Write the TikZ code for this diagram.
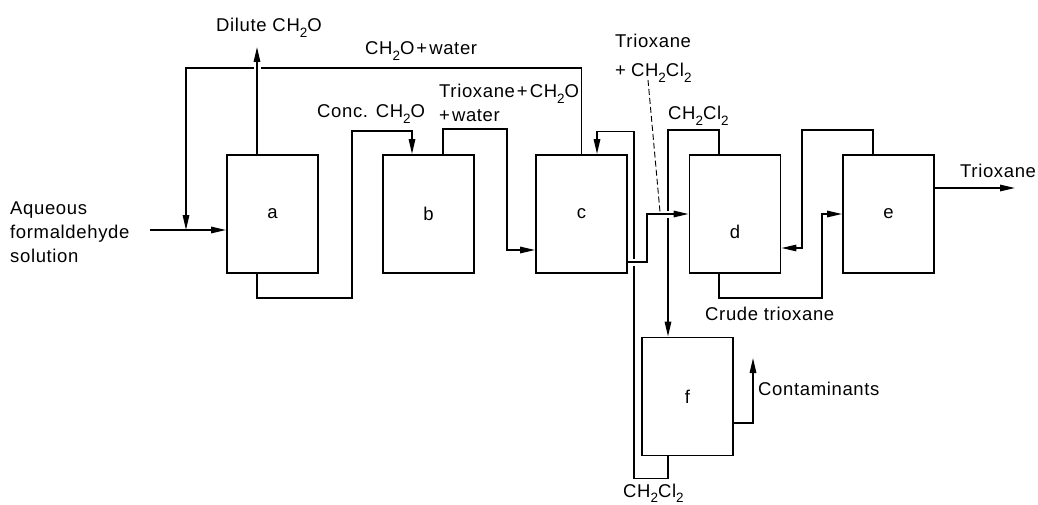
\documentclass[tikz,border=0pt]{standalone}
\usepackage{fontspec}
\setmainfont[LetterSpace=3.5]{Liberation Sans}
\usetikzlibrary{arrows.meta}
\newcommand{\subx}[1]{\raisebox{-0.32em}{\fontsize{13.5}{13.5}\selectfont #1}}
\newcommand{\plusx}{\kern2pt+\kern2pt}
\begin{document}
\begin{tikzpicture}[x=1pt,y=-1pt,
  box/.style={draw,line width=1.9pt,minimum width=91pt,minimum height=118pt,inner sep=0pt,font=\fontsize{18.5}{22}\selectfont},
  flow/.style={line width=1.5pt,-{Triangle[length=15pt,width=6.5pt]}},
  over/.style={preaction={draw=white,line width=7pt,arrows=-,shorten <=3pt,shorten >=3pt}},
  lead/.style={line width=0.9pt,dash pattern=on 6pt off 3pt},
  lbl/.style={inner sep=0pt,font=\fontsize{18.5}{24}\selectfont},
]
\useasboundingbox (0,0) rectangle (1038,505);
% units
\node[box] (a) at (272.5,214) {a};
\node[box] (b) at (428.5,214) {b};
\node[box] (c) at (581.5,214) {c};
\node[box] (d) at (735,214) {};
\node[lbl] (dl) at (735,232) {d};
\node[box] (e) at (888.5,214) {e};
\node[box] (f) at (687.5,396.5) {f};
% free ends
\coordinate (feed) at (150,230);
\coordinate (rec) at (186,68);
\coordinate (dil) at (257,47);
\coordinate (tri) at (1015,188);
\coordinate (cont) at (753,358);
\coordinate (ld1) at (648,80);
\coordinate (ld2) at (660,212);
% connectors
\draw[flow] (feed) -- (feed -| a.west);
\draw[flow] (c.north) |- (rec) -- (rec |- feed);
\draw[flow,over] (a.north -| dil) -- (dil);
\draw[flow] ([xshift=-15.5pt]a.south) -- ++(0,24) -- ++(95,0) -- ++(0,-167) -- ++(60,0) -- ([xshift=-16.5pt]b.north);
\draw[flow] ([xshift=14.5pt]b.north) |- ++(64,-25) |- ([yshift=-36pt]c.west);
\draw[flow] ([xshift=-19.5pt]f.south) -- ++(0,22) -- ++(-34,0) -- ++(0,-347) -- ++(-37,0) -- ([xshift=15.5pt]c.north);
\draw[flow] ([xshift=-16pt]d.north) -- ++(0,-24) -| ([xshift=-19.5pt]f.north);
\draw[flow,over] ([yshift=-48pt]c.east) -- ++(19,0) |- (d.west);
\draw[flow] ([xshift=-16pt]d.south) -- ++(0,24) -- ++(103,0) |- (e.west);
\draw[flow] ([xshift=-15.5pt]e.north) -- ++(0,-24) -- ++(-71,0) |- ([yshift=-34pt]d.east);
\draw[flow] ([yshift=26pt]e.east) -- (tri);
\draw[flow] ([yshift=-26.5pt]f.east) -| (cont);
\draw[lead] (ld1) -- (ld2);
% labels
\node[lbl,anchor=west,align=left] (feedl) at (10,232) {Aqueous\\formaldehyde\\solution};
\node[lbl,anchor=base west] (dill) at (216,32) {Dilute CH\subx{2}O};
\node[lbl,anchor=base west] (recl) at (365,55) {CH\subx{2}O\plusx water};
\node[lbl,anchor=base west] (concl) at (317,118) {Conc. CH\subx{2}O};
\node[lbl,anchor=base west] (tcw1) at (439,98) {Trioxane\plusx CH\subx{2}O};
\node[lbl,anchor=base west] (tcw2) at (439,122) {+\kern2pt water};
\node[lbl,anchor=base west] (tc1) at (615,48) {Trioxane};
\node[lbl,anchor=base west] (tc2) at (615,77) {+\kern5pt CH\subx{2}Cl\subx{2}};
\node[lbl,anchor=base west] (dcl) at (668,120) {CH\subx{2}Cl\subx{2}};
\node[lbl,anchor=base west] (crl) at (705,320) {Crude trioxane};
\node[lbl,anchor=base west] (tril) at (960,178) {Trioxane};
\node[lbl,anchor=base west] (contl) at (758,395) {Contaminants};
\node[lbl,anchor=base west] (bcl) at (623,497) {CH\subx{2}Cl\subx{2}};
\end{tikzpicture}
\end{document}
